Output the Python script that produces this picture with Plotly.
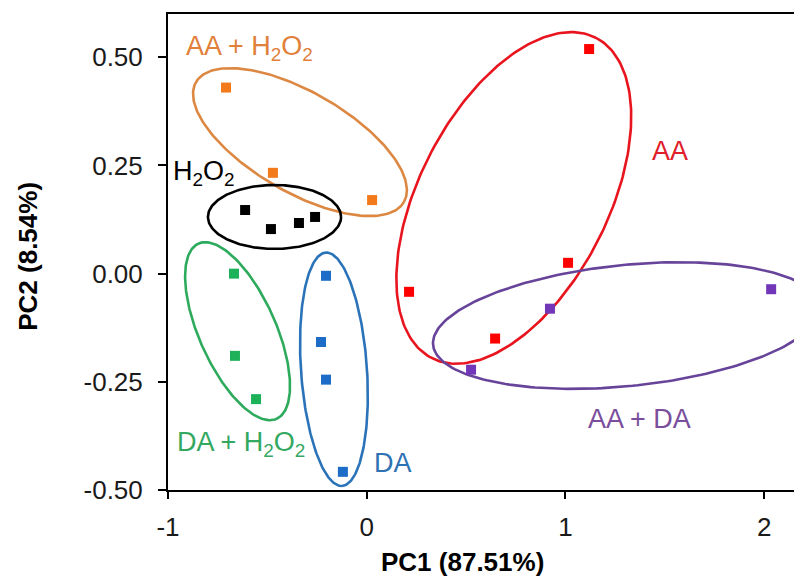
import numpy as np
import plotly.graph_objects as go

# PCA scores per group (PC1, PC2)
aa_h2o2_x = [-0.708, -0.472, 0.027]
aa_h2o2_y = [0.430, 0.233, 0.170]
h2o2_x = [-0.612, -0.482, -0.341, -0.260]
h2o2_y = [0.147, 0.103, 0.117, 0.131]
da_h2o2_x = [-0.668, -0.663, -0.557]
da_h2o2_y = [0.000, -0.190, -0.290]
da_x = [-0.205, -0.230, -0.205, -0.120]
da_y = [-0.005, -0.158, -0.245, -0.458]
aa_x = [1.119, 1.013, 0.213, 0.646]
aa_y = [0.519, 0.025, -0.042, -0.150]
aa_da_x = [0.922, 0.525, 2.035]
aa_da_y = [-0.081, -0.222, -0.036]

# Group ellipses: centre, semi-axes (in PC1 units), tilt in degrees
ell_cx = [-0.336, -0.464, -0.650, -0.165, 0.740, 1.307]
ell_cy = [0.304, 0.131, -0.133, -0.221, 0.175, -0.120]
ell_a = [0.604, 0.335, 0.483, 0.589, 0.906, 0.978]
ell_b = [0.252, 0.161, 0.193, 0.166, 0.475, 0.305]
ell_tilt = [-30.0, 0.0, -66.0, -86.0, 62.9, 5.75]
Y_ASPECT = 2.179  # PC2 unit length relative to PC1 unit length on screen

group_names = ["AA + H<sub>2</sub>O<sub>2</sub>", "H<sub>2</sub>O<sub>2</sub>",
               "DA + H<sub>2</sub>O<sub>2</sub>", "DA", "AA", "AA + DA"]
label_x = [-0.590, -0.820, -0.633, 0.130, 1.526, 1.375]
label_y = [0.521, 0.233, -0.393, -0.437, 0.283, -0.336]

marker_colors = ["#F27A1A", "#000000", "#1DB25A", "#1C6CC8", "#FF0000", "#7236B8"]
ellipse_colors = ["#DC8842", "#000000", "#2EAA5C", "#2B73B9", "#E8141E", "#67449A"]
text_colors = ["#E0803A", "#000000", "#33A860", "#2F72B4", "#E0202A", "#7A4E9C"]

xs = [aa_h2o2_x, h2o2_x, da_h2o2_x, da_x, aa_x, aa_da_x]
ys = [aa_h2o2_y, h2o2_y, da_h2o2_y, da_y, aa_y, aa_da_y]

x_ticks = [-1, 0, 1, 2]
x_ticktext = ["-1", "0", "1", "2"]
y_ticks = [0.5, 0.25, 0.0, -0.25, -0.5]
y_ticktext = ["0.50", "0.25", "0.00", "-0.25", "-0.50"]

FONT = "Arial, Liberation Sans"

fig = go.Figure()

t = np.linspace(0, 2 * np.pi, 241)
for i in range(6):
    th = np.radians(ell_tilt[i])
    u = ell_a[i] * np.cos(t) * np.cos(th) - ell_b[i] * np.sin(t) * np.sin(th)
    v = ell_a[i] * np.cos(t) * np.sin(th) + ell_b[i] * np.sin(t) * np.cos(th)
    fig.add_trace(go.Scatter(
        x=ell_cx[i] + u, y=ell_cy[i] + v / Y_ASPECT, mode="lines",
        line=dict(color=ellipse_colors[i], width=2.6),
        hoverinfo="skip", showlegend=False))

for i in range(6):
    fig.add_trace(go.Scatter(
        x=xs[i], y=ys[i], mode="markers",
        marker=dict(symbol="square", size=10, color=marker_colors[i]),
        showlegend=False, cliponaxis=False))

for i in range(6):
    fig.add_annotation(x=label_x[i], y=label_y[i], text=group_names[i],
                       showarrow=False, xanchor="center", yanchor="middle",
                       font=dict(family=FONT, size=27, color=text_colors[i]))

fig.add_annotation(xref="paper", yref="paper", x=0.471, y=-0.152,
                   text="<b>PC1 (87.51%)</b>", showarrow=False,
                   xanchor="center", yanchor="middle",
                   font=dict(family=FONT, size=26, color="#000"))
fig.add_annotation(xref="paper", yref="paper", x=-0.2236, y=0.49,
                   text="<b>PC2 (8.54%)</b>", showarrow=False, textangle=-90,
                   xanchor="center", yanchor="middle",
                   font=dict(family=FONT, size=26, color="#000"))

fig.update_layout(
    width=794, height=582,
    margin=dict(l=168, r=0, t=14, b=92),
    plot_bgcolor="white", paper_bgcolor="white",
    font=dict(family=FONT, size=26, color="#1a1a1a"),
    xaxis=dict(range=[-1, 2.15], tickvals=x_ticks, ticktext=x_ticktext,
               showgrid=False, zeroline=False, showline=True, linecolor="#000",
               linewidth=2, mirror=True, ticks="outside", ticklen=7,
               tickwidth=2, tickcolor="#000", ticklabelstandoff=6),
    yaxis=dict(range=[-0.5, 0.6], tickvals=y_ticks, ticktext=y_ticktext,
               showgrid=False, zeroline=False, showline=True, linecolor="#000",
               linewidth=2, ticks="outside", ticklen=8, tickwidth=2,
               tickcolor="#000", ticklabelstandoff=10),
)

fig.write_html("out.html")
